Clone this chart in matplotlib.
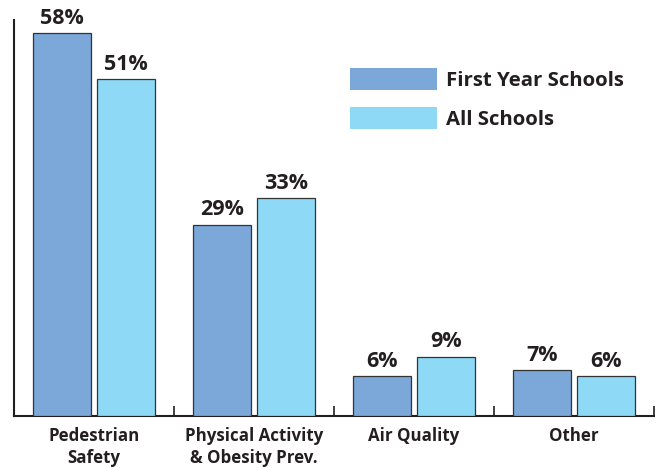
import matplotlib.pyplot as plt
import numpy as np
from matplotlib.patches import Patch

categories = ["Pedestrian\nSafety", "Physical Activity\n& Obesity Prev.", "Air Quality", "Other"]
first_year = [58, 29, 6, 7]
all_schools = [51, 33, 9, 6]
series_labels = ["First Year Schools", "All Schools"]
colors = ["#7BA7D9", "#8ED9F6"]

plt.rcParams["font.family"] = ["Open Sans", "DejaVu Sans"]

fig = plt.figure(figsize=(6.62, 4.68), dpi=100)
ax = fig.add_axes([14 / 662, 52 / 468, 640 / 662, 396 / 468])

x = np.arange(len(categories))
width = 0.36
offset = 0.2

for vals, dx, color in zip([first_year, all_schools], [-offset, offset], colors):
    bars = ax.bar(x + dx, vals, width, color=color, edgecolor="#333333", linewidth=0.9, zorder=3)
    for bar, val in zip(bars, vals):
        ax.annotate(
            f"{val}%",
            (bar.get_x() + bar.get_width() / 2, bar.get_height()),
            xytext=(0, 3),
            textcoords="offset points",
            ha="center",
            va="bottom",
            fontsize=15.5,
            fontweight="bold",
            color="#231f20",
        )

ax.set_xlim(-0.5, 3.5)
ax.set_ylim(0, 60)
ax.set_yticks([])
ax.set_xticks(np.arange(-0.5, 3.6, 1.0))
ax.set_xticklabels([])
ax.set_xticks(x, minor=True)
ax.set_xticklabels(categories, minor=True, fontsize=12.2, fontweight="bold", color="#231f20", linespacing=1.3)
ax.tick_params(axis="x", which="major", direction="in", length=7, width=1.2, color="#231f20")
ax.tick_params(axis="x", which="minor", length=0, pad=8)
ax.spines[["top", "right"]].set_visible(False)
ax.spines[["left", "bottom"]].set_linewidth(1.5)
ax.spines[["left", "bottom"]].set_color("#231f20")

handles = [Patch(facecolor=c, edgecolor="none", label=l) for c, l in zip(colors, series_labels)]
ax.legend(
    handles=handles,
    loc="upper left",
    bbox_to_anchor=((350 - 14) / 640, (416 - 68) / 396),
    frameon=False,
    borderpad=0,
    borderaxespad=0,
    prop={"weight": "bold", "size": 14.7},
    handlelength=4.26,
    handleheight=1.3,
    labelspacing=0.78,
    handletextpad=0.45,
    labelcolor="#231f20",
)

fig.savefig("out.png", dpi=100)
